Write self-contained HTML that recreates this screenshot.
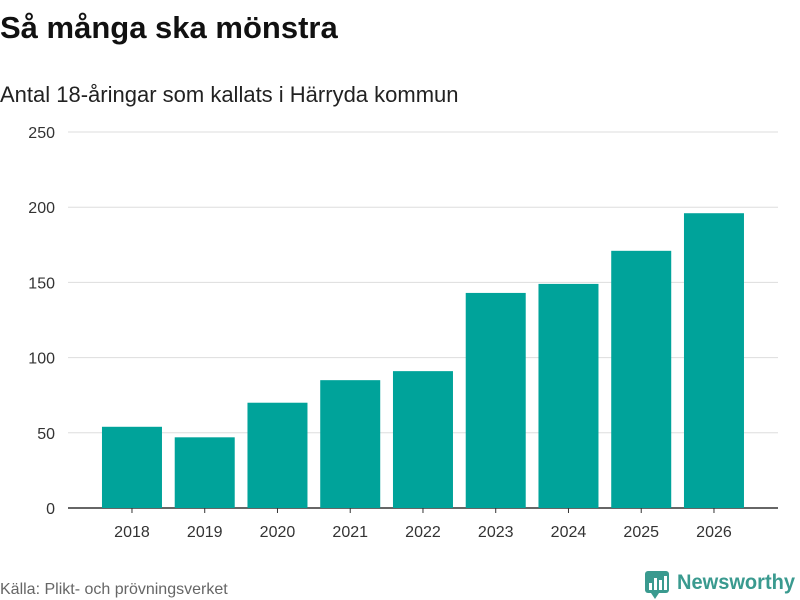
<!DOCTYPE html>
<html><head><meta charset="utf-8"><style>
body{margin:0;background:#fff;font-family:"Liberation Sans",sans-serif;}
#wrap{position:relative;width:800px;height:600px;overflow:hidden;}
</style></head><body>
<div id="wrap">
<svg id="chart" width="800" height="600">
<text x="0" y="38" font-size="31" font-weight="bold" fill="#111">Så många ska mönstra</text>
<text x="0" y="102" font-size="22" fill="#222">Antal 18-åringar som kallats i Härryda kommun</text>
<g id="grid"></g><g id="bars"></g><g id="xaxis"></g>
<text x="0" y="594" font-size="16" fill="#666">Källa: Plikt- och prövningsverket</text>
<g>
<rect x="645" y="571" width="24" height="22" rx="3" fill="#3a9a8f"/>
<path d="M651 593 l4 6 l4 -6z" fill="#3a9a8f"/>
<rect x="649" y="583" width="3" height="7" fill="#fff"/><rect x="654" y="578" width="3" height="12" fill="#fff"/><rect x="659" y="580" width="3" height="10" fill="#fff"/><rect x="664" y="576" width="3" height="14" fill="#fff"/>
<text x="677" y="589" font-size="21" font-weight="bold" fill="#3a9a8f" textLength="118" lengthAdjust="spacingAndGlyphs">Newsworthy</text>
</g>
</svg>
</div>
<script>
const categories=["2018","2019","2020","2021","2022","2023","2024","2025","2026"];
const values=[54,47,70,85,91,143,149,171,196];
const ticks=[0,50,100,150,200,250];
const NS="http://www.w3.org/2000/svg";
const y0=508,y1=132,maxV=250;
function yScale(v){return y0-(v/maxV)*(y0-y1);}
const bandStart=95.6,band=72.75,barW=60;
function xScale(i){return bandStart+i*band+band/2;}
const grid=document.getElementById('grid'),bars=document.getElementById('bars'),xa=document.getElementById('xaxis');
ticks.forEach(t=>{
 const l=document.createElementNS(NS,'line');
 l.setAttribute('x1',68);l.setAttribute('x2',778);l.setAttribute('y1',yScale(t));l.setAttribute('y2',yScale(t));
 l.setAttribute('stroke',t===0?'#333':'#ddd');l.setAttribute('stroke-width',t===0?1.5:1);
 
 
 grid.appendChild(l);
 const tx=document.createElementNS(NS,'text');
 tx.setAttribute('x',55);tx.setAttribute('y',yScale(t)+6);tx.setAttribute('text-anchor','end');
 tx.setAttribute('font-size','16');tx.setAttribute('fill','#333');tx.textContent=t;
 
 
 grid.appendChild(tx);
});
values.forEach((v,i)=>{
 const r=document.createElementNS(NS,'rect');
 r.setAttribute('x',xScale(i)-barW/2);r.setAttribute('width',barW);
 r.setAttribute('y',yScale(v));r.setAttribute('height',y0-yScale(v));r.setAttribute('fill','#00a39a');
 
 
 bars.appendChild(r);
 const tx=document.createElementNS(NS,'text');
 tx.setAttribute('x',xScale(i));tx.setAttribute('y',537);tx.setAttribute('text-anchor','middle');
 tx.setAttribute('font-size','16');tx.setAttribute('fill','#333');tx.textContent=categories[i];
 
 
 xa.appendChild(tx);
 const tk=document.createElementNS(NS,'line');
 tk.setAttribute('x1',xScale(i));tk.setAttribute('x2',xScale(i));tk.setAttribute('y1',y0);tk.setAttribute('y2',y0+5);tk.setAttribute('stroke','#333');
 
 
 xa.appendChild(tk);
});
</script>
</body></html>
